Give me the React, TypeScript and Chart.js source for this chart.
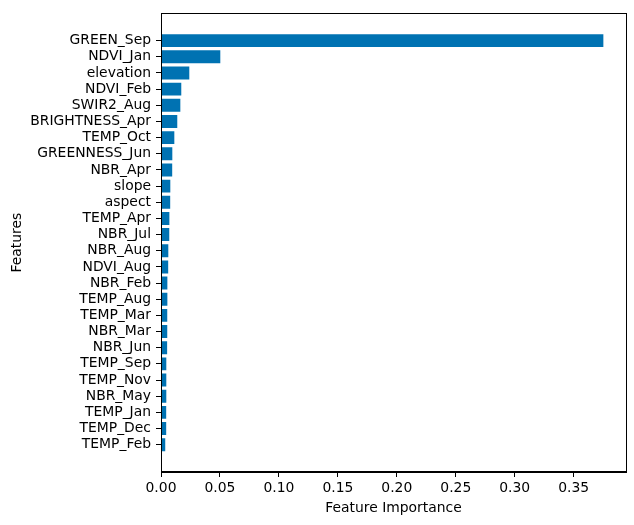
import React, { useEffect, useRef } from "react";
import { Chart, registerables } from "chart.js";

Chart.register(...registerables);

const features = [
  "GREEN_Sep", "NDVI_Jan", "elevation", "NDVI_Feb", "SWIR2_Aug", "BRIGHTNESS_Apr",
  "TEMP_Oct", "GREENNESS_Jun", "NBR_Apr", "slope", "aspect", "TEMP_Apr", "NBR_Jul",
  "NBR_Aug", "NDVI_Aug", "NBR_Feb", "TEMP_Aug", "TEMP_Mar", "NBR_Mar", "NBR_Jun",
  "TEMP_Sep", "TEMP_Nov", "NBR_May", "TEMP_Jan", "TEMP_Dec", "TEMP_Feb",
];
const importances = [
  0.3752, 0.0503, 0.0240, 0.0172, 0.0164, 0.0138,
  0.0113, 0.0096, 0.0095, 0.0079, 0.0078, 0.0071, 0.0070,
  0.0062, 0.0061, 0.0054, 0.0054, 0.0053, 0.0053, 0.0052,
  0.0045, 0.0045, 0.0045, 0.0044, 0.0044, 0.0036,
];
const xTicks = [0, 0.05, 0.1, 0.15, 0.2, 0.25, 0.3, 0.35];

const FONT = "'DejaVu Sans', sans-serif";

const frame = {
  id: "frame",
  afterDraw(chart: any) {
    const { ctx, chartArea } = chart;
    ctx.save();
    ctx.strokeStyle = "#000";
    ctx.lineWidth = 1;
    ctx.strokeRect(
      Math.round(chartArea.left) + 0.5,
      Math.round(chartArea.top) + 0.5,
      Math.round(chartArea.right - chartArea.left),
      Math.round(chartArea.bottom - chartArea.top)
    );
    ctx.restore();
  },
};

export default function App() {
  const ref = useRef<HTMLCanvasElement>(null);
  useEffect(() => {
    const n = features.length;
    const pad = 0.05 * (n - 1 + 0.8);
    const chart = new Chart(ref.current!, {
      type: "bar",
      data: {
        datasets: [
          {
            data: importances.map((v, i) => ({ x: v, y: i })),
            backgroundColor: "#0072b2",
            borderWidth: 0,
            categoryPercentage: 1,
            barPercentage: 0.8,
          },
        ],
      },
      options: {
        indexAxis: "y",
        animation: false,
        responsive: false,
        layout: { padding: { top: 10.7, right: 8, left: 0, bottom: 0 } },
        plugins: { legend: { display: false }, tooltip: { enabled: false } },
        scales: {
          y: {
            type: "linear",
            reverse: true,
            offset: false,
            min: -0.4 - pad,
            max: n - 1 + 0.4 + pad,
            afterBuildTicks: (s: any) => {
              s.ticks = features.map((_, i) => ({ value: i }));
            },
            afterFit: (s: any) => {
              s.width = 161;
            },
            grid: { display: true, offset: false, drawOnChartArea: false, drawTicks: true, tickLength: 5, color: "#000" },
            border: { display: true, color: "#000" },
            ticks: {
              color: "#000",
              padding: 5,
              autoSkip: false,
              font: { family: FONT, size: 13.9 },
              callback: (v: any) => features[v as number] ?? "",
            },
            title: {
              display: true,
              text: "Features",
              color: "#000",
              font: { family: FONT, size: 13.9 },
              padding: { top: 9, bottom: 4 },
            },
          },
          x: {
            type: "linear",
            offset: false,
            min: 0,
            max: 0.3944,
            afterBuildTicks: (s: any) => {
              s.ticks = xTicks.map((v) => ({ value: v }));
            },
            afterFit: (s: any) => {
              s.height = 53;
            },
            grid: { display: true, offset: false, drawOnChartArea: false, drawTicks: true, tickLength: 5, color: "#000" },
            border: { display: true, color: "#000" },
            ticks: {
              color: "#000",
              padding: 3,
              maxRotation: 0,
              font: { family: FONT, size: 13.9 },
              callback: (v: any) => Number(v).toFixed(2),
            },
            title: {
              display: true,
              text: "Feature Importance",
              color: "#000",
              font: { family: FONT, size: 13.9 },
              padding: { top: 2, bottom: 8 },
            },
          },
        },
      },
      plugins: [frame],
    });
    return () => chart.destroy();
  }, []);
  return (
    <div style={{ position: "fixed", left: 0, top: 0, width: 634, height: 525, background: "#fff" }}>
      <canvas ref={ref} width={634} height={525} />
    </div>
  );
}
